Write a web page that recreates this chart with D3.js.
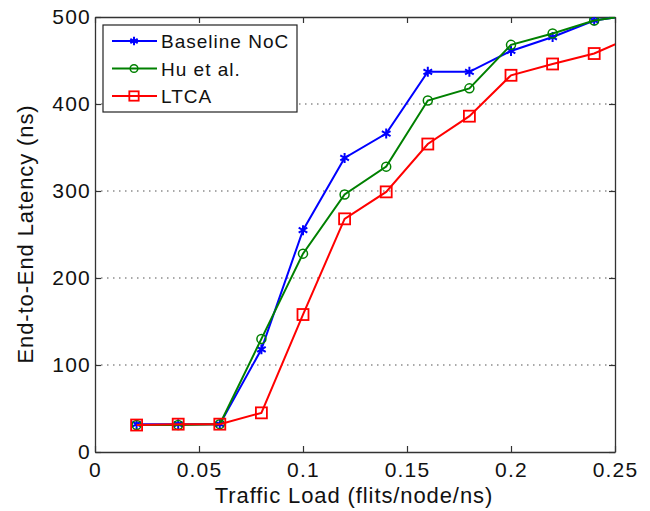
<!DOCTYPE html>
<html>
<head>
<meta charset="utf-8">
<script src="https://cdn.jsdelivr.net/npm/d3@7"></script>
<style>
  html, body { margin: 0; padding: 0; background: #fff; }
  svg { display: block; font-family: "Liberation Sans", Arial, sans-serif; }
</style>
</head>
<body>
<svg id="chart" width="650" height="511"></svg>
<script>
// Traffic load (flits/node/ns) sampled per run
const loads = [0.02, 0.04, 0.06, 0.08, 0.10, 0.12, 0.14, 0.16, 0.18, 0.20, 0.22, 0.24, 0.26];
// End-to-end latency (ns) per scheme
const baselineNoC = [32, 32, 32, 118, 255, 338, 366, 437, 437, 461, 477, 496, 503];
const huEtAl      = [31, 31, 32, 130, 228, 296, 328, 404, 418, 468, 481, 496, 503];
const ltca        = [31, 32, 32, 45, 158, 268, 299, 354, 386, 433, 446, 458, 479];

const seriesNames = ["Baseline NoC", "Hu et al.", "LTCA"];
const seriesColors = ["#0000ff", "#008000", "#ff0000"];
const seriesMarkers = ["star", "circle", "square"];
const seriesValues = [baselineNoC, huEtAl, ltca];

const xTicks = [0, 0.05, 0.1, 0.15, 0.2, 0.25];
const xTickLabels = ["0", "0.05", "0.1", "0.15", "0.2", "0.25"];
const yTicks = [0, 100, 200, 300, 400, 500];
const yTickLabels = ["0", "100", "200", "300", "400", "500"];

const svg = d3.select("#chart");
const margin = { left: 95, right: 35, top: 17, bottom: 59 };
const W = 650, H = 511;
const x = d3.scaleLinear().domain([0, 0.25]).range([margin.left, W - margin.right]);
const y = d3.scaleLinear().domain([0, 500]).range([H - margin.bottom, margin.top]);

svg.append("defs").append("clipPath").attr("id", "plotclip")
  .append("rect")
  .attr("x", x(0)).attr("y", y(500))
  .attr("width", x(0.25) - x(0)).attr("height", y(0) - y(500));

// dotted horizontal grid
svg.append("g").selectAll("line").data(yTicks.filter(d => d > 0 && d < 500)).join("line")
  .attr("x1", x(0)).attr("x2", x(0.25))
  .attr("y1", d => y(d)).attr("y2", d => y(d))
  .attr("stroke", "#555").attr("stroke-width", 1.2)
  .attr("stroke-dasharray", "1.5,4.5");

// axes with inward ticks on all four sides
const tickLen = 6;
const axB = d3.axisBottom(x).tickValues(xTicks).tickFormat((d, i) => xTickLabels[i]).tickSizeInner(-tickLen).tickSizeOuter(0).tickPadding(10);
const axT = d3.axisTop(x).tickValues(xTicks).tickFormat("").tickSizeInner(-tickLen).tickSizeOuter(0);
const axL = d3.axisLeft(y).tickValues(yTicks).tickFormat((d, i) => yTickLabels[i]).tickSizeInner(-tickLen).tickSizeOuter(0).tickPadding(4);
const axR = d3.axisRight(y).tickValues(yTicks).tickFormat("").tickSizeInner(-tickLen).tickSizeOuter(0);

function styleAxis(g) {
  g.selectAll(".domain").attr("stroke", "#333").attr("stroke-width", 1.3);
  g.selectAll(".tick line").attr("stroke", "#333").attr("stroke-width", 1.2);
  g.selectAll(".tick text").attr("fill", "#111").style("font-size", "21px")
    .style("letter-spacing", "1.2px")
    .style("font-family", "'Liberation Sans', Arial, sans-serif");
}
svg.append("g").attr("transform", `translate(0,${y(0)})`).call(axB).call(styleAxis);
svg.append("g").attr("transform", `translate(0,${y(500)})`).call(axT).call(styleAxis);
svg.append("g").attr("transform", `translate(${x(0)},0)`).call(axL).call(styleAxis);
svg.append("g").attr("transform", `translate(${x(0.25)},0)`).call(axR).call(styleAxis);

// axis titles
svg.append("text").attr("x", 354).attr("y", 503)
  .attr("text-anchor", "middle").style("font-size", "22px").style("letter-spacing", "0.9px")
  .attr("fill", "#111")
  .text("Traffic Load (flits/node/ns)");
svg.append("text")
  .attr("transform", `translate(33,234) rotate(-90)`)
  .attr("text-anchor", "middle").style("font-size", "22px").style("letter-spacing", "0.9px")
  .attr("fill", "#111")
  .text("End-to-End Latency (ns)");

// marker drawing
function drawMarker(g, type, color, cx, cy, scale = 1) {
  if (type === "star") {
    const r = 5 * scale;
    const p = d3.path();
    for (let k = 0; k < 3; k++) {
      const a = Math.PI / 2 + k * Math.PI / 3;
      p.moveTo(cx + r * Math.cos(a), cy + r * Math.sin(a));
      p.lineTo(cx - r * Math.cos(a), cy - r * Math.sin(a));
    }
    g.append("path").attr("d", p.toString()).attr("stroke", color).attr("stroke-width", 2).attr("fill", "none");
  } else if (type === "circle") {
    g.append("circle").attr("cx", cx).attr("cy", cy).attr("r", 4.5 * scale)
      .attr("stroke", color).attr("stroke-width", 1.5).attr("fill", "none");
  } else {
    const s = 11 * scale;
    g.append("rect").attr("x", cx - s / 2).attr("y", cy - s / 2).attr("width", s).attr("height", s)
      .attr("stroke", color).attr("stroke-width", 1.8).attr("fill", "none");
  }
}

const plot = svg.append("g").attr("clip-path", "url(#plotclip)");
const line = d3.line().x(d => x(d[0])).y(d => y(d[1]));
seriesValues.forEach((vals, i) => {
  const pts = loads.map((l, j) => [l, vals[j]]);
  const g = plot.append("g");
  g.append("path").attr("d", line(pts)).attr("fill", "none")
    .attr("stroke", seriesColors[i]).attr("stroke-width", 2);
  pts.forEach(p => drawMarker(g, seriesMarkers[i], seriesColors[i], x(p[0]), y(p[1])));
});

// legend
const lg = svg.append("g").attr("transform", "translate(103,25)");
lg.append("rect").attr("width", 194).attr("height", 87).attr("fill", "#fff")
  .attr("stroke", "#222").attr("stroke-width", 1.2);
seriesNames.forEach((name, i) => {
  const yy = 16 + i * 27.5;
  lg.append("line").attr("x1", 9).attr("x2", 54).attr("y1", yy).attr("y2", yy)
    .attr("stroke", seriesColors[i]).attr("stroke-width", 2);
  drawMarker(lg, seriesMarkers[i], seriesColors[i], 31, yy, 0.85);
  lg.append("text").attr("x", 58).attr("y", yy + 7).style("font-size", "19px")
    .style("letter-spacing", "1px")
    .attr("fill", "#111").text(name);
});
</script>
</body>
</html>
